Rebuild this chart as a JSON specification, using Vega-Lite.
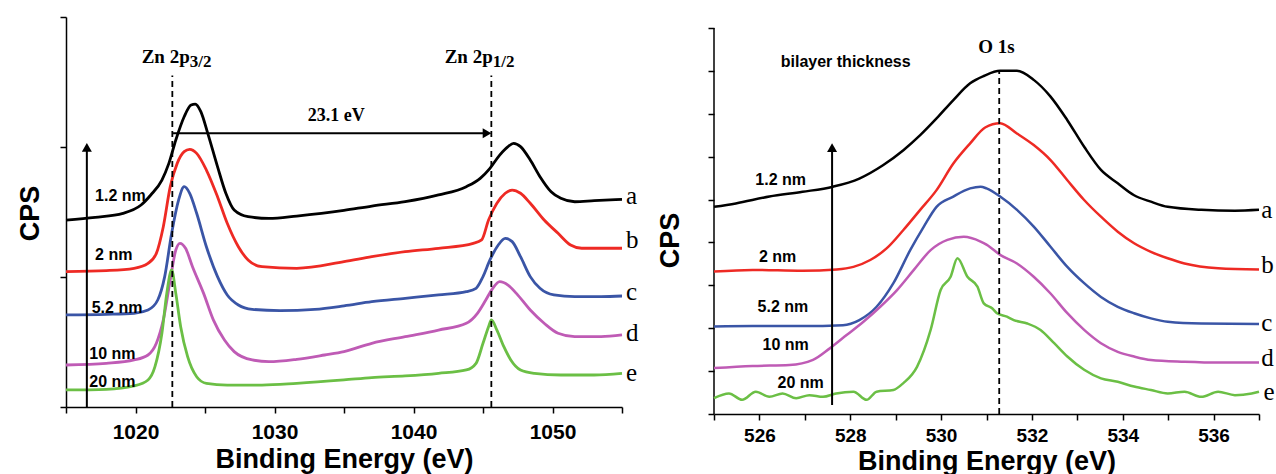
{
  "$schema": "https://vega.github.io/schema/vega-lite/v6.json",
  "padding": {"left": 16, "top": 16, "right": 0, "bottom": 0},
  "spacing": 17,
  "bounds": "full",
  "background": "white",
  "config": {
    "view": {"stroke": null},
    "axis": {"grid": false, "domainColor": "#000", "tickColor": "#000", "labelColor": "#000", "titleColor": "#000",
      "labelFont": "Liberation Sans", "titleFont": "Liberation Sans", "labelFontWeight": "bold", "titleFontWeight": "bold",
      "domainWidth": 1.5, "tickWidth": 1.5, "tickSize": 6, "labelOverlap": false, "labelFlush": false}
  },
  "datasets": {
    "zn": [
      {"s":"a","x":1015,"y":1.438},{"s":"a","x":1017.1,"y":1.459},{"s":"a","x":1019.1,"y":1.49},{"s":"a","x":1020.4,"y":1.554},{"s":"a","x":1021.1,"y":1.631},{"s":"a","x":1021.9,"y":1.746},{"s":"a","x":1022.4,"y":1.874},{"s":"a","x":1022.9,"y":2.054},{"s":"a","x":1023.5,"y":2.233},{"s":"a","x":1024.0,"y":2.323},{"s":"a","x":1024.3,"y":2.33},{"s":"a","x":1024.7,"y":2.272},{"s":"a","x":1025.2,"y":2.105},{"s":"a","x":1025.9,"y":1.849},{"s":"a","x":1026.5,"y":1.644},{"s":"a","x":1027.1,"y":1.515},{"s":"a","x":1028.1,"y":1.464},{"s":"a","x":1029.6,"y":1.451},{"s":"a","x":1031.6,"y":1.469},{"s":"a","x":1035,"y":1.512},{"s":"a","x":1037,"y":1.546},{"s":"a","x":1039.4,"y":1.579},{"s":"a","x":1041.8,"y":1.631},{"s":"a","x":1043.8,"y":1.695},{"s":"a","x":1044.8,"y":1.759},{"s":"a","x":1045.5,"y":1.836},{"s":"a","x":1046.2,"y":1.938},{"s":"a","x":1046.8,"y":2.003},{"s":"a","x":1047.2,"y":2.028},{"s":"a","x":1047.7,"y":2.003},{"s":"a","x":1048.4,"y":1.9},{"s":"a","x":1049.1,"y":1.772},{"s":"a","x":1049.9,"y":1.656},{"s":"a","x":1050.6,"y":1.605},{"s":"a","x":1051.6,"y":1.579},{"s":"a","x":1053,"y":1.587},{"s":"a","x":1055,"y":1.597},
      {"s":"b","x":1015,"y":1.041},{"s":"b","x":1017.9,"y":1.049},{"s":"b","x":1019.9,"y":1.067},{"s":"b","x":1020.9,"y":1.105},{"s":"b","x":1021.5,"y":1.182},{"s":"b","x":1022,"y":1.387},{"s":"b","x":1022.5,"y":1.695},{"s":"b","x":1023,"y":1.874},{"s":"b","x":1023.5,"y":1.964},{"s":"b","x":1023.9,"y":1.982},{"s":"b","x":1024.4,"y":1.951},{"s":"b","x":1025.1,"y":1.823},{"s":"b","x":1025.9,"y":1.618},{"s":"b","x":1026.6,"y":1.413},{"s":"b","x":1027.4,"y":1.233},{"s":"b","x":1028.1,"y":1.131},{"s":"b","x":1029.1,"y":1.079},{"s":"b","x":1031.6,"y":1.067},{"s":"b","x":1035,"y":1.118},{"s":"b","x":1037,"y":1.156},{"s":"b","x":1039.4,"y":1.195},{"s":"b","x":1041.8,"y":1.221},{"s":"b","x":1044.3,"y":1.259},{"s":"b","x":1044.9,"y":1.285},{"s":"b","x":1045.4,"y":1.438},{"s":"b","x":1046,"y":1.567},{"s":"b","x":1046.6,"y":1.644},{"s":"b","x":1047.1,"y":1.669},{"s":"b","x":1047.7,"y":1.644},{"s":"b","x":1048.4,"y":1.567},{"s":"b","x":1049.4,"y":1.438},{"s":"b","x":1050.4,"y":1.336},{"s":"b","x":1051.3,"y":1.246},{"s":"b","x":1052.1,"y":1.221},{"s":"b","x":1053.5,"y":1.221},{"s":"b","x":1055,"y":1.221},
      {"s":"c","x":1015,"y":0.708},{"s":"c","x":1017.9,"y":0.713},{"s":"c","x":1019.9,"y":0.721},{"s":"c","x":1020.9,"y":0.746},{"s":"c","x":1021.6,"y":0.823},{"s":"c","x":1022.1,"y":1.003},{"s":"c","x":1022.6,"y":1.336},{"s":"c","x":1023.1,"y":1.592},{"s":"c","x":1023.5,"y":1.695},{"s":"c","x":1023.9,"y":1.644},{"s":"c","x":1024.4,"y":1.49},{"s":"c","x":1025.1,"y":1.233},{"s":"c","x":1025.9,"y":1.003},{"s":"c","x":1026.6,"y":0.862},{"s":"c","x":1027.4,"y":0.785},{"s":"c","x":1028.4,"y":0.751},{"s":"c","x":1030.4,"y":0.741},{"s":"c","x":1032.9,"y":0.751},{"s":"c","x":1035,"y":0.778},{"s":"c","x":1037,"y":0.81},{"s":"c","x":1039.4,"y":0.836},{"s":"c","x":1041.8,"y":0.862},{"s":"c","x":1043.8,"y":0.887},{"s":"c","x":1044.5,"y":0.913},{"s":"c","x":1045,"y":1.003},{"s":"c","x":1045.5,"y":1.131},{"s":"c","x":1046.1,"y":1.246},{"s":"c","x":1046.6,"y":1.297},{"s":"c","x":1047.1,"y":1.272},{"s":"c","x":1047.7,"y":1.156},{"s":"c","x":1048.4,"y":1.003},{"s":"c","x":1049.1,"y":0.913},{"s":"c","x":1050.1,"y":0.862},{"s":"c","x":1051.6,"y":0.849},{"s":"c","x":1053.5,"y":0.849},{"s":"c","x":1055,"y":0.854},
      {"s":"d","x":1015,"y":0.323},{"s":"d","x":1017.9,"y":0.336},{"s":"d","x":1019.9,"y":0.362},{"s":"d","x":1020.9,"y":0.4},{"s":"d","x":1021.5,"y":0.49},{"s":"d","x":1022,"y":0.67},{"s":"d","x":1022.5,"y":0.977},{"s":"d","x":1022.9,"y":1.208},{"s":"d","x":1023.2,"y":1.259},{"s":"d","x":1023.6,"y":1.221},{"s":"d","x":1024.1,"y":1.079},{"s":"d","x":1024.9,"y":0.874},{"s":"d","x":1025.6,"y":0.67},{"s":"d","x":1026.4,"y":0.515},{"s":"d","x":1027.1,"y":0.426},{"s":"d","x":1028.4,"y":0.362},{"s":"d","x":1029.6,"y":0.349},{"s":"d","x":1031.6,"y":0.367},{"s":"d","x":1033.6,"y":0.4},{"s":"d","x":1035,"y":0.426},{"s":"d","x":1037,"y":0.49},{"s":"d","x":1039.4,"y":0.541},{"s":"d","x":1041.8,"y":0.592},{"s":"d","x":1043.8,"y":0.644},{"s":"d","x":1044.6,"y":0.721},{"s":"d","x":1045.2,"y":0.823},{"s":"d","x":1045.7,"y":0.913},{"s":"d","x":1046.2,"y":0.964},{"s":"d","x":1046.8,"y":0.938},{"s":"d","x":1047.4,"y":0.874},{"s":"d","x":1048.4,"y":0.746},{"s":"d","x":1049.4,"y":0.644},{"s":"d","x":1050.4,"y":0.567},{"s":"d","x":1051.6,"y":0.541},{"s":"d","x":1053.5,"y":0.541},{"s":"d","x":1055,"y":0.554},
      {"s":"e","x":1015,"y":0.131},{"s":"e","x":1017.9,"y":0.136},{"s":"e","x":1019.9,"y":0.162},{"s":"e","x":1020.9,"y":0.208},{"s":"e","x":1021.4,"y":0.31},{"s":"e","x":1021.9,"y":0.567},{"s":"e","x":1022.25,"y":0.874},{"s":"e","x":1022.6,"y":1.054},{"s":"e","x":1022.9,"y":0.874},{"s":"e","x":1023.25,"y":0.618},{"s":"e","x":1023.75,"y":0.387},{"s":"e","x":1024.4,"y":0.233},{"s":"e","x":1025.1,"y":0.182},{"s":"e","x":1026.6,"y":0.169},{"s":"e","x":1029.1,"y":0.169},{"s":"e","x":1031.6,"y":0.182},{"s":"e","x":1035,"y":0.208},{"s":"e","x":1037,"y":0.226},{"s":"e","x":1039.4,"y":0.239},{"s":"e","x":1041.8,"y":0.259},{"s":"e","x":1043.8,"y":0.285},{"s":"e","x":1044.5,"y":0.336},{"s":"e","x":1045,"y":0.49},{"s":"e","x":1045.4,"y":0.618},{"s":"e","x":1045.6,"y":0.67},{"s":"e","x":1046,"y":0.592},{"s":"e","x":1046.5,"y":0.464},{"s":"e","x":1047,"y":0.362},{"s":"e","x":1047.7,"y":0.285},{"s":"e","x":1048.7,"y":0.259},{"s":"e","x":1050.6,"y":0.246},{"s":"e","x":1053,"y":0.246},{"s":"e","x":1055,"y":0.259}
    ],
    "o": [
      {"s":"a","x":525.0,"y":4.83},{"s":"a","x":525.48,"y":4.91},{"s":"a","x":526.22,"y":5.07},{"s":"a","x":526.95,"y":5.18},{"s":"a","x":527.62,"y":5.3},{"s":"a","x":528.2,"y":5.49},{"s":"a","x":528.72,"y":5.8},{"s":"a","x":529.17,"y":6.15},{"s":"a","x":529.54,"y":6.5},{"s":"a","x":529.9,"y":6.89},{"s":"a","x":530.27,"y":7.32},{"s":"a","x":530.64,"y":7.71},{"s":"a","x":530.94,"y":7.88},{"s":"a","x":531.3,"y":8.0},{"s":"a","x":531.67,"y":8.0},{"s":"a","x":532.04,"y":7.79},{"s":"a","x":532.41,"y":7.4},{"s":"a","x":532.78,"y":6.85},{"s":"a","x":533.15,"y":6.23},{"s":"a","x":533.52,"y":5.69},{"s":"a","x":533.89,"y":5.38},{"s":"a","x":534.25,"y":5.1},{"s":"a","x":534.62,"y":4.95},{"s":"a","x":534.99,"y":4.83},{"s":"a","x":535.73,"y":4.76},{"s":"a","x":536.47,"y":4.74},{"s":"a","x":537.0,"y":4.76},
      {"s":"b","x":525.0,"y":3.32},{"s":"b","x":525.85,"y":3.36},{"s":"b","x":526.95,"y":3.34},{"s":"b","x":527.7,"y":3.37},{"s":"b","x":528.07,"y":3.43},{"s":"b","x":528.44,"y":3.59},{"s":"b","x":528.8,"y":3.86},{"s":"b","x":529.17,"y":4.29},{"s":"b","x":529.54,"y":4.76},{"s":"b","x":529.9,"y":5.22},{"s":"b","x":530.27,"y":5.84},{"s":"b","x":530.64,"y":6.31},{"s":"b","x":530.97,"y":6.68},{"s":"b","x":531.3,"y":6.78},{"s":"b","x":531.67,"y":6.54},{"s":"b","x":532.04,"y":6.27},{"s":"b","x":532.41,"y":5.92},{"s":"b","x":532.78,"y":5.45},{"s":"b","x":533.15,"y":4.99},{"s":"b","x":533.52,"y":4.6},{"s":"b","x":533.89,"y":4.25},{"s":"b","x":534.25,"y":3.98},{"s":"b","x":534.62,"y":3.78},{"s":"b","x":534.99,"y":3.63},{"s":"b","x":535.36,"y":3.51},{"s":"b","x":536.1,"y":3.4},{"s":"b","x":537.0,"y":3.37},
      {"s":"c","x":525.0,"y":2.04},{"s":"c","x":525.85,"y":2.05},{"s":"c","x":526.95,"y":2.05},{"s":"c","x":527.84,"y":2.07},{"s":"c","x":528.2,"y":2.19},{"s":"c","x":528.58,"y":2.5},{"s":"c","x":528.95,"y":3.05},{"s":"c","x":529.32,"y":3.82},{"s":"c","x":529.62,"y":4.37},{"s":"c","x":529.9,"y":4.83},{"s":"c","x":530.27,"y":5.07},{"s":"c","x":530.64,"y":5.26},{"s":"c","x":530.87,"y":5.3},{"s":"c","x":531.0,"y":5.26},{"s":"c","x":531.3,"y":5.07},{"s":"c","x":531.67,"y":4.76},{"s":"c","x":532.04,"y":4.37},{"s":"c","x":532.41,"y":3.9},{"s":"c","x":532.78,"y":3.43},{"s":"c","x":533.15,"y":3.05},{"s":"c","x":533.52,"y":2.73},{"s":"c","x":533.89,"y":2.5},{"s":"c","x":534.25,"y":2.35},{"s":"c","x":534.62,"y":2.23},{"s":"c","x":534.99,"y":2.15},{"s":"c","x":535.73,"y":2.11},{"s":"c","x":537.0,"y":2.1},
      {"s":"d","x":525.0,"y":1.07},{"s":"d","x":525.85,"y":1.12},{"s":"d","x":526.66,"y":1.14},{"s":"d","x":527.18,"y":1.26},{"s":"d","x":527.55,"y":1.53},{"s":"d","x":527.92,"y":1.84},{"s":"d","x":528.29,"y":2.15},{"s":"d","x":528.66,"y":2.5},{"s":"d","x":529.03,"y":2.89},{"s":"d","x":529.4,"y":3.36},{"s":"d","x":529.77,"y":3.82},{"s":"d","x":530.14,"y":4.06},{"s":"d","x":530.5,"y":4.13},{"s":"d","x":530.87,"y":4.02},{"s":"d","x":531.0,"y":3.95},{"s":"d","x":531.3,"y":3.71},{"s":"d","x":531.67,"y":3.51},{"s":"d","x":532.04,"y":3.2},{"s":"d","x":532.41,"y":2.81},{"s":"d","x":532.78,"y":2.35},{"s":"d","x":533.15,"y":1.96},{"s":"d","x":533.52,"y":1.65},{"s":"d","x":533.89,"y":1.45},{"s":"d","x":534.25,"y":1.34},{"s":"d","x":534.62,"y":1.26},{"s":"d","x":535.36,"y":1.22},{"s":"d","x":536.1,"y":1.2},{"s":"d","x":537.0,"y":1.2},
      {"s":"e","x":525.0,"y":0.37},{"s":"e","x":525.33,"y":0.48},{"s":"e","x":525.62,"y":0.33},{"s":"e","x":525.92,"y":0.52},{"s":"e","x":526.22,"y":0.4},{"s":"e","x":526.51,"y":0.48},{"s":"e","x":526.81,"y":0.37},{"s":"e","x":527.1,"y":0.44},{"s":"e","x":527.4,"y":0.4},{"s":"e","x":527.69,"y":0.48},{"s":"e","x":528.07,"y":0.52},{"s":"e","x":528.36,"y":0.33},{"s":"e","x":528.58,"y":0.52},{"s":"e","x":528.95,"y":0.56},{"s":"e","x":529.17,"y":0.72},{"s":"e","x":529.47,"y":1.1},{"s":"e","x":529.77,"y":1.96},{"s":"e","x":529.99,"y":2.89},{"s":"e","x":530.21,"y":3.2},{"s":"e","x":530.36,"y":3.63},{"s":"e","x":530.58,"y":3.2},{"s":"e","x":530.8,"y":2.97},{"s":"e","x":530.94,"y":2.58},{"s":"e","x":531.13,"y":2.46},{"s":"e","x":531.23,"y":2.35},{"s":"e","x":531.45,"y":2.27},{"s":"e","x":531.6,"y":2.19},{"s":"e","x":531.9,"y":2.11},{"s":"e","x":532.19,"y":1.96},{"s":"e","x":532.49,"y":1.65},{"s":"e","x":532.78,"y":1.34},{"s":"e","x":533.15,"y":1.03},{"s":"e","x":533.52,"y":0.83},{"s":"e","x":533.89,"y":0.75},{"s":"e","x":534.25,"y":0.64},{"s":"e","x":534.62,"y":0.56},{"s":"e","x":534.99,"y":0.48},{"s":"e","x":535.36,"y":0.52},{"s":"e","x":535.73,"y":0.4},{"s":"e","x":536.1,"y":0.52},{"s":"e","x":536.47,"y":0.44},{"s":"e","x":536.84,"y":0.48},{"s":"e","x":537.0,"y":0.52}
    ],
    "znDash": [{"x":1022.65,"y":0,"y2":2.55},{"x":1045.6,"y":0,"y2":2.55}],
    "znArrow": [{"x":1022.7,"y":2.105,"x2":1045.3,"y2":2.105},{"x":1016.5,"y":0,"x2":1016.5,"y2":1.997}],
    "znHeadR": [{"x":1045.29,"y":2.105}],
    "znHeadU": [{"x":1016.5,"y":1.997}],
    "znNm": [{"t":"1.2 nm","x":1017.09,"y":1.62},{"t":"2 nm","x":1017.09,"y":1.17},{"t":"5.2 nm","x":1016.85,"y":0.76},{"t":"10 nm","x":1016.68,"y":0.41},{"t":"20 nm","x":1016.68,"y":0.195}],
    "znLet": [{"t":"a","x":1055.29,"y":1.62},{"t":"b","x":1055.29,"y":1.285},{"t":"c","x":1055.29,"y":0.887},{"t":"d","x":1055.29,"y":0.567},{"t":"e","x":1055.29,"y":0.26}],
    "znMain": [{"t":"Zn 2p","x":1023.9,"y":2.646},{"t":"Zn 2p","x":1045.7,"y":2.646}],
    "znSub": [{"t":"3/2","x":1023.9,"y":2.615},{"t":"1/2","x":1045.7,"y":2.615}],
    "znEv": [{"t":"23.1 eV","x":1034.45,"y":2.24}],
    "oAxis": [{"x":525,"y":0,"y2":9}],
    "oDash": [{"x":531.28,"y":0,"y2":8.02}],
    "oArrow": [{"x":527.6,"y":0.21,"x2":527.6,"y2":6.21}],
    "oHeadU": [{"x":527.6,"y":6.21}],
    "oNm": [{"t":"bilayer thickness","x":526.47,"y":8.21},{"t":"1.2 nm","x":525.91,"y":5.45},{"t":"2 nm","x":525.99,"y":3.67},{"t":"5.2 nm","x":525.96,"y":2.5},{"t":"10 nm","x":526.07,"y":1.61},{"t":"20 nm","x":526.4,"y":0.72}],
    "oLet": [{"t":"a","x":537.05,"y":4.76},{"t":"b","x":537.05,"y":3.47},{"t":"c","x":537.05,"y":2.11},{"t":"d","x":537.05,"y":1.3},{"t":"e","x":537.1,"y":0.52}],
    "oTitle": [{"t":"O 1s","x":531.22,"y":8.56}]
  },
  "hconcat": [
    {
      "width": 556, "height": 390,
      "encoding": {
        "x": {"field": "x", "type": "quantitative", "scale": {"domain": [1015, 1055], "nice": false, "zero": false},
          "axis": {"title": "Binding Energy (eV)", "values": [1015,1020,1025,1030,1035,1040,1045,1050,1055], "format": "d",
            "labelExpr": "datum.value % 10 === 0 ? datum.label : ''", "labelFontSize": 21, "labelBaseline": "alphabetic", "labelPadding": 25,
            "titleFontSize": 27, "titleBaseline": "alphabetic", "titleY": 60}},
        "y": {"field": "y", "type": "quantitative", "scale": {"domain": [0, 3], "nice": false, "zero": false},
          "axis": {"title": "CPS", "labels": false, "values": [0,1,2,3], "titleFontSize": 27, "titleAngle": -90, "titleBaseline": "alphabetic", "titleAlign": "center", "titleX": -28, "titleY": 196}}
      },
      "layer": [
        {"data": {"name": "zn"}, "mark": {"type": "line", "strokeWidth": 2.8, "interpolate": "monotone", "clip": false},
          "encoding": {"color": {"field": "s", "type": "nominal", "scale": {"domain": ["a","b","c","d","e"], "range": ["#000000","#ee2a24","#3a55a6","#bf5bb5","#6bbf45"]}, "legend": null}}},
        {"data": {"name": "znDash"}, "mark": {"type": "rule", "strokeDash": [6,4], "strokeWidth": 1.8, "color": "#000"}, "encoding": {"y2": {"field": "y2"}}},
        {"data": {"name": "znArrow"}, "mark": {"type": "rule", "strokeWidth": 2, "color": "#000"}, "encoding": {"x2": {"field": "x2"}, "y2": {"field": "y2"}}},
        {"data": {"name": "znHeadR"}, "mark": {"type": "point", "shape": "triangle-right", "filled": true, "color": "#000", "opacity": 1, "size": 100}},
        {"data": {"name": "znHeadU"}, "mark": {"type": "point", "shape": "triangle-up", "filled": true, "color": "#000", "opacity": 1, "size": 100}},
        {"data": {"name": "znNm"}, "mark": {"type": "text", "font": "Liberation Sans", "fontWeight": "bold", "fontSize": 16, "align": "left", "baseline": "middle", "color": "#000"}, "encoding": {"text": {"field": "t"}}},
        {"data": {"name": "znLet"}, "mark": {"type": "text", "font": "Liberation Serif", "fontSize": 25, "align": "left", "baseline": "middle", "color": "#000"}, "encoding": {"text": {"field": "t"}}},
        {"data": {"name": "znMain"}, "mark": {"type": "text", "font": "Liberation Serif", "fontWeight": "bold", "fontSize": 19, "align": "right", "baseline": "alphabetic", "color": "#000"}, "encoding": {"text": {"field": "t"}}},
        {"data": {"name": "znSub"}, "mark": {"type": "text", "font": "Liberation Serif", "fontWeight": "bold", "fontSize": 17, "align": "left", "baseline": "alphabetic", "color": "#000"}, "encoding": {"text": {"field": "t"}}},
        {"data": {"name": "znEv"}, "mark": {"type": "text", "font": "Liberation Serif", "fontWeight": "bold", "fontSize": 18, "align": "center", "baseline": "middle", "color": "#000"}, "encoding": {"text": {"field": "t"}}}
      ]
    },
    {
      "width": 545, "height": 397,
      "encoding": {
        "x": {"field": "x", "type": "quantitative", "scale": {"domain": [525, 537], "nice": false, "zero": false},
          "axis": {"title": "Binding Energy (eV)", "values": [525,526,527,528,529,530,531,532,533,534,535,536,537], "format": "d",
            "labelExpr": "datum.value % 2 === 0 ? datum.label : ''", "labelFontSize": 19, "labelBaseline": "alphabetic", "labelPadding": 21,
            "titleFontSize": 27, "titleBaseline": "alphabetic", "titleY": 55}},
        "y": {"field": "y", "type": "quantitative", "scale": {"domain": [0, 9.256], "nice": false, "zero": false},
          "axis": {"title": "CPS", "labels": false, "domain": false, "values": [0,1,2,3,4,5,6,7,8,9], "titleFontSize": 27, "titleAngle": -90, "titleBaseline": "alphabetic", "titleAlign": "center", "titleX": -36, "titleY": 223}}
      },
      "layer": [
        {"data": {"name": "oAxis"}, "mark": {"type": "rule", "strokeWidth": 1.5, "color": "#000"}, "encoding": {"y2": {"field": "y2"}}},
        {"data": {"name": "o"}, "mark": {"type": "line", "strokeWidth": 2.5, "interpolate": "monotone", "clip": false},
          "encoding": {"color": {"field": "s", "type": "nominal", "scale": {"domain": ["a","b","c","d","e"], "range": ["#000000","#ee2a24","#3a55a6","#bf5bb5","#6bbf45"]}, "legend": null}}},
        {"data": {"name": "oDash"}, "mark": {"type": "rule", "strokeDash": [6,4], "strokeWidth": 1.8, "color": "#000"}, "encoding": {"y2": {"field": "y2"}}},
        {"data": {"name": "oArrow"}, "mark": {"type": "rule", "strokeWidth": 2, "color": "#000"}, "encoding": {"x2": {"field": "x2"}, "y2": {"field": "y2"}}},
        {"data": {"name": "oHeadU"}, "mark": {"type": "point", "shape": "triangle-up", "filled": true, "color": "#000", "opacity": 1, "size": 100}},
        {"data": {"name": "oNm"}, "mark": {"type": "text", "font": "Liberation Sans", "fontWeight": "bold", "fontSize": 16, "align": "left", "baseline": "middle", "color": "#000"}, "encoding": {"text": {"field": "t"}}},
        {"data": {"name": "oLet"}, "mark": {"type": "text", "font": "Liberation Serif", "fontSize": 25, "align": "left", "baseline": "middle", "color": "#000"}, "encoding": {"text": {"field": "t"}}},
        {"data": {"name": "oTitle"}, "mark": {"type": "text", "font": "Liberation Serif", "fontWeight": "bold", "fontSize": 19, "align": "center", "baseline": "middle", "color": "#000"}, "encoding": {"text": {"field": "t"}}}
      ]
    }
  ]
}
